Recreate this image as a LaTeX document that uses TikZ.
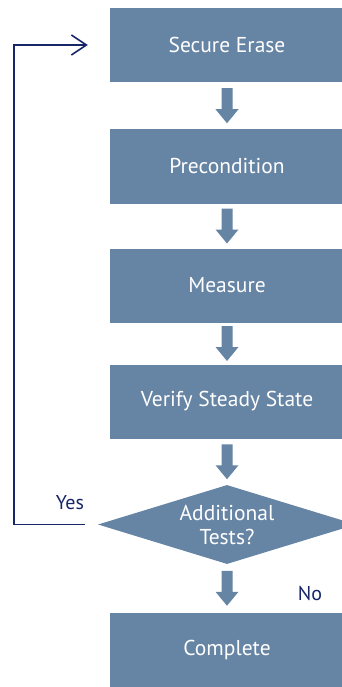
\documentclass[tikz,border=0pt]{standalone}
\usepackage{fontspec}
\setmainfont{PT Sans}
\usetikzlibrary{shapes.geometric,arrows.meta,calc}
\definecolor{stepblue}{RGB}{102,132,164}
\definecolor{loopnavy}{RGB}{24,38,104}

% Filled block arrow centred in the gap between two stacked nodes
\newcommand\blockarrow[2]{%
  \path[fill=stepblue] let \p1=($(#1.south)!0.5!(#2.north)$) in
    (\x1-5.5pt,\y1+17.5pt) -- (\x1+5.5pt,\y1+17.5pt) -- (\x1+5.5pt,\y1-3.5pt) --
    (\x1+11.5pt,\y1-3.5pt) -- (\x1,\y1-17.5pt) -- (\x1-11.5pt,\y1-3.5pt) --
    (\x1-5.5pt,\y1-3.5pt) -- cycle;}

\begin{document}
\begin{tikzpicture}[x=1pt,y=-1pt,
  stepbox/.style={rectangle, fill=stepblue, text=white, minimum width=234pt,
    minimum height=74pt, inner sep=0pt, font=\fontsize{21.5}{24}\selectfont},
  decision/.style={diamond, fill=stepblue, text=white, minimum width=258pt,
    minimum height=79pt, aspect=3.27, inner sep=0pt, align=center,
    font=\fontsize{21.5}{24}\selectfont},
  flowlabel/.style={text=loopnavy, inner sep=0pt, font=\fontsize{20}{22}\selectfont},
  looppath/.style={draw=loopnavy, line width=1.6pt,
    -{Straight Barb[length=15pt,width=20pt]}}
]
\useasboundingbox (0,0) rectangle (342,687);
\clip (0,0) rectangle (342,687);

% process steps
\node[stepbox] (erase)   at (227,45)    {Secure Erase};
\node[stepbox] (precond) at (227,166.5) {Precondition};
\node[stepbox] (measure) at (227,285.5) {Measure};
\node[stepbox] (verify)  at (227,401.5) {Verify Steady State};
\node[decision] (tests)  at (227,524.5) {Additional\\Tests?};
\node[stepbox] (done)    at (227,649.5) {Complete};

% downward flow
\blockarrow{erase}{precond}
\blockarrow{precond}{measure}
\blockarrow{measure}{verify}
\blockarrow{verify}{tests}
\blockarrow{tests}{done}

% loop back for further tests
\coordinate (yesend) at ($(tests.west)+(-13,0)$);
\coordinate (erasein) at ($(erase.west)+(-22,0)$);
\draw[looppath] (yesend) -- ++(-71,0) |- (erasein);

\node[flowlabel] (yes) at (70,503) {Yes};
\node[flowlabel] (no)  at (310,594) {No};
\end{tikzpicture}
\end{document}
